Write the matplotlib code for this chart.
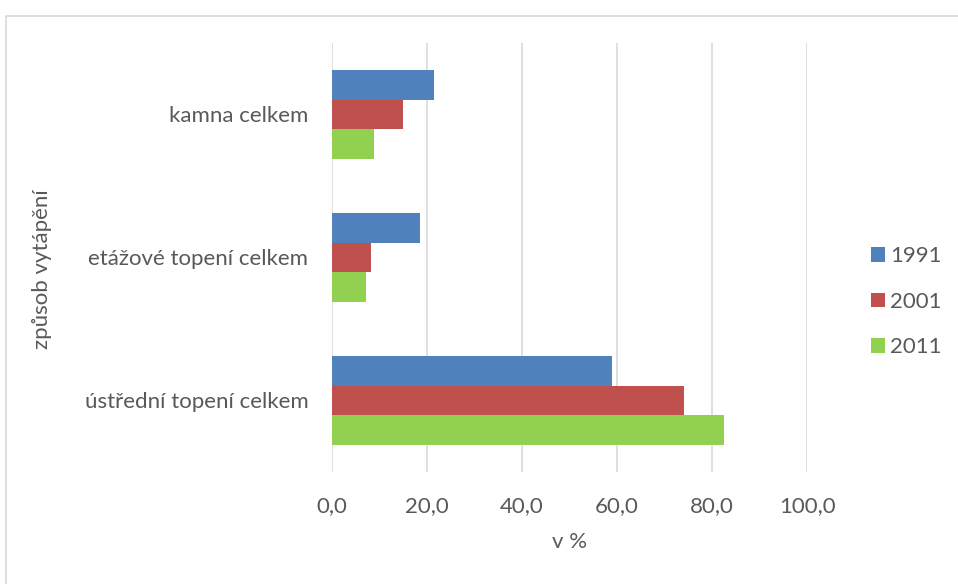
import matplotlib.pyplot as plt
import numpy as np
from matplotlib.patches import Rectangle

plt.rcParams['font.family'] = ['Lato', 'DejaVu Sans']

categories = ["ústřední topení celkem", "etážové topení celkem", "kamna celkem"]
years = ["1991", "2001", "2011"]
v1991 = [59.0, 18.5, 21.5]
v2001 = [74.1, 8.1, 15.0]
v2011 = [82.6, 7.2, 8.8]
colors = ["#4F81BD", "#C0504D", "#92D050"]
text_grey = "#595959"
fs = 16

fig = plt.figure(figsize=(9.58, 5.84), dpi=100)
ax = fig.add_axes([0.3466, 0.1918, 0.4958, 0.7346])

# light frame around the chart area
fig.patches.append(Rectangle((5.5 / 958, -0.01), 1.02, 1 - 15.5 / 584 + 0.01,
                             transform=fig.transFigure, fill=False,
                             edgecolor="#D9D9D9", linewidth=1.2))

y = np.arange(len(categories))
h = 0.207
for offset, vals, color, label in zip((h, 0, -h), (v1991, v2001, v2011), colors, years):
    ax.barh(y + offset, vals, height=h, color=color, label=label, zorder=3)

ax.set_xlim(0, 100)
ax.set_ylim(-0.5, 2.5)
ax.set_xticks(np.arange(0, 101, 20))
ax.set_xticklabels([f"{t:.1f}".replace(".", ",") for t in np.arange(0, 101, 20)])
ax.set_yticks(y)
ax.set_yticklabels(categories)
ax.tick_params(axis="both", length=0, labelsize=fs, colors=text_grey)
ax.tick_params(axis="y", pad=17)
ax.tick_params(axis="x", pad=17)
ax.grid(axis="x", color="#D9D9D9", linewidth=1.2, zorder=0)
for s in ax.spines.values():
    s.set_visible(False)

ax.set_xlabel("v %", fontsize=fs, color=text_grey, labelpad=12)
ax.set_ylabel("způsob vytápění", fontsize=fs, color=text_grey)
ax.yaxis.set_label_coords(-0.59, 0.472)

ax.legend(loc="center left", bbox_to_anchor=(0.909, 0.483), bbox_transform=fig.transFigure,
          frameon=False, fontsize=fs, labelcolor=text_grey, handlelength=0.63,
          handleheight=0.63, handletextpad=0.25, labelspacing=1.15, borderpad=0,
          borderaxespad=0)

fig.savefig("out.png", dpi=100)
